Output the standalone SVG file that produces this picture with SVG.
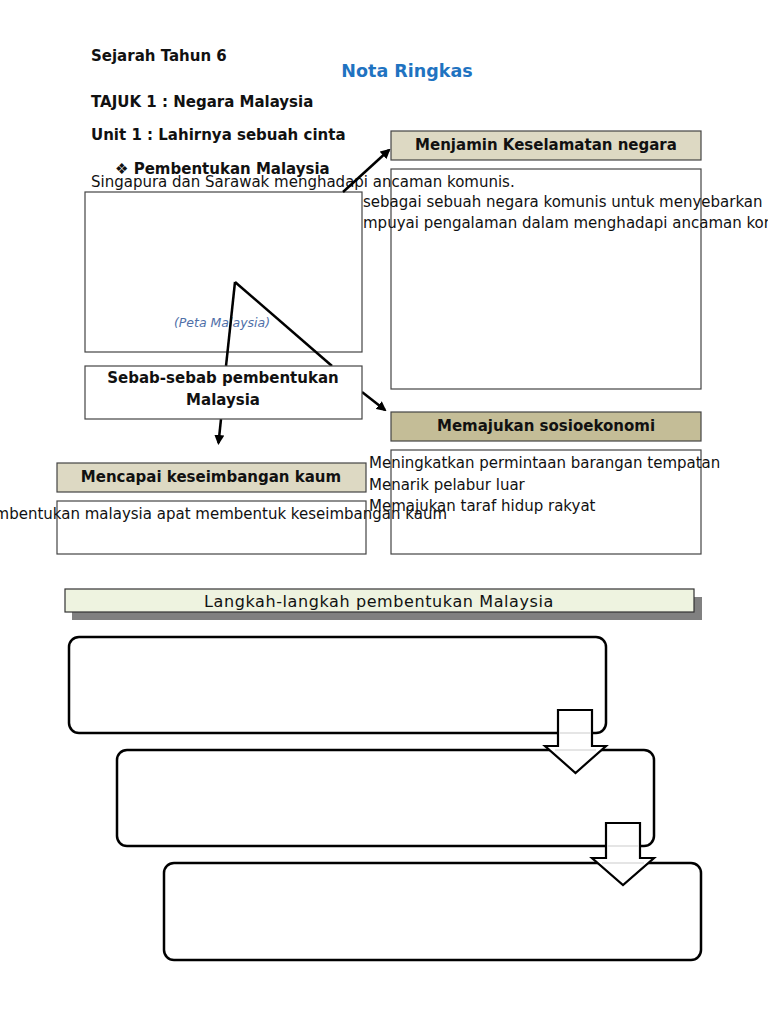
<svg xmlns="http://www.w3.org/2000/svg" width="768" height="1024" viewBox="0 0 768 1024">
<defs>
<style>
text{font-family:"DejaVu Sans","Liberation Sans",sans-serif;fill:#111}
.b{font-weight:bold;font-size:15px}
.n{font-size:15px}
.c{text-anchor:middle}
.hdr{fill:#ddd9c3;stroke:#444;stroke-width:1.2}
.hdr2{fill:#c4bd97;stroke:#444;stroke-width:1.2}
.box{fill:none;stroke:#444;stroke-width:1.2}
.wbox{fill:#fff;stroke:#444;stroke-width:1.2}
.ln{stroke:#000;stroke-width:2.5;fill:none}
.rbox{fill:none;stroke:#000;stroke-width:2.5}
.barrow{fill:#fff;stroke:#000;stroke-width:2.2;stroke-linejoin:miter}
</style>
<marker id="ah" viewBox="0 0 10 10" refX="8" refY="5" markerWidth="4" markerHeight="4" orient="auto" markerUnits="strokeWidth">
<path d="M0,0 L10,5 L0,10 z" fill="#000"/>
</marker>
</defs>
<rect width="768" height="1024" fill="#fff"/>

<g id="titles">
<text class="b" x="91" y="61">Sejarah Tahun 6</text>
<text x="407" y="77" class="c" style="font-weight:bold;font-size:17.5px;fill:#1f73c1">Nota Ringkas</text>
<text class="b" x="91" y="107">TAJUK 1 : Negara Malaysia</text>
<text class="b" x="91" y="140">Unit 1 : Lahirnya sebuah cinta</text>
<text class="b" x="115" y="174">❖ Pembentukan Malaysia</text>
</g>

<g id="menjamin">
<rect class="hdr" x="391" y="131" width="310" height="29"/>
<text class="b c" x="546" y="150">Menjamin Keselamatan negara</text>
<rect class="box" x="391" y="169" width="310" height="220"/>
</g>

<g id="peta">
<text class="n" x="91" y="187">Singapura dan Sarawak menghadapi ancaman komunis.</text>
<rect class="wbox" x="85" y="192" width="277" height="160"/>
<text x="222" y="327" class="c" style="font-size:12.5px;font-style:italic;fill:#4f6fa8">(Peta Malaysia)</text>
</g>

<g id="menjamin-text">
<text class="n" x="363" y="207">sebagai sebuah negara komunis untuk menyebarkan</text>
<text class="n" x="363" y="228">mpuyai pengalaman dalam menghadapi ancaman kom</text>
</g>

<g id="connectors">
<line class="ln" x1="343" y1="192" x2="389" y2="150" marker-end="url(#ah)"/>
<line class="ln" x1="235" y1="282" x2="226" y2="366"/>
<line class="ln" x1="235" y1="282" x2="332" y2="366"/>
<line class="ln" x1="221" y1="419" x2="218.5" y2="443" marker-end="url(#ah)"/>
<line class="ln" x1="362" y1="392" x2="385" y2="410" marker-end="url(#ah)"/>
</g>

<g id="sebab">
<rect class="wbox" x="85" y="366" width="277" height="53"/>
<text class="b c" x="223" y="383">Sebab-sebab pembentukan</text>
<text class="b c" x="223" y="405">Malaysia</text>
</g>

<g id="memajukan">
<rect class="hdr2" x="391" y="412" width="310" height="29"/>
<text class="b c" x="546" y="431">Memajukan sosioekonomi</text>
<rect class="box" x="391" y="450" width="310" height="104"/>
<text class="n" x="369" y="468">Meningkatkan permintaan barangan tempatan</text>
<text class="n" x="369" y="490">Menarik pelabur luar</text>
<text class="n" x="369" y="511">Memajukan taraf hidup rakyat</text>
</g>

<g id="mencapai">
<rect class="hdr" x="57" y="463" width="309" height="29"/>
<text class="b c" x="211" y="482">Mencapai keseimbangan kaum</text>
<rect class="box" x="57" y="501" width="309" height="53"/>
<text class="n" x="447" y="519" text-anchor="end">Pembentukan malaysia apat membentuk keseimbangan kaum</text>
</g>

<g id="langkah">
<rect x="72" y="597" width="630" height="23" fill="#808080"/>
<rect x="65" y="589" width="629" height="23" fill="#eef3e0" stroke="#333" stroke-width="1.2"/>
<text class="n c" x="379" y="607" style="font-size:16px;letter-spacing:0.6px">Langkah-langkah pembentukan Malaysia</text>
</g>

<g id="step1"><rect class="rbox" x="69" y="637" width="537" height="96" rx="10"/></g>
<g id="step2"><rect class="rbox" x="117" y="750" width="537" height="96" rx="10"/></g>
<g id="step3"><rect class="rbox" x="164" y="863" width="537" height="97" rx="10"/></g>

<g id="arrow1">
<path class="barrow" d="M558,710 H592 V746 H606 L575.5,773 L545,746 H558 Z"/>
<line x1="559" y1="733" x2="591" y2="733" stroke="#ddd" stroke-width="1.5"/>
<line x1="555" y1="750" x2="596" y2="750" stroke="#ddd" stroke-width="1.5"/>
</g>
<g id="arrow2">
<path class="barrow" d="M606,823 H640 V858 H654 L623,885 L592,858 H606 Z"/>
<line x1="607" y1="846" x2="639" y2="846" stroke="#ddd" stroke-width="1.5"/>
<line x1="602" y1="863" x2="644" y2="863" stroke="#ddd" stroke-width="1.5"/>
</g>
</svg>
